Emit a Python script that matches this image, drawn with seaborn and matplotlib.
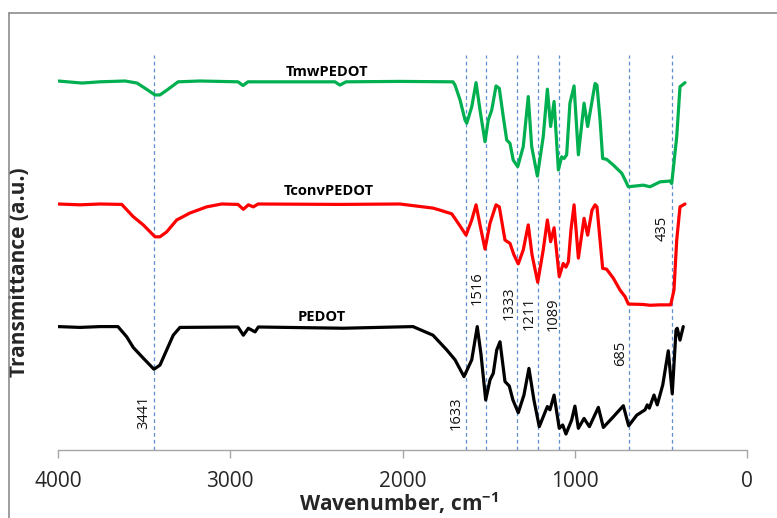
import matplotlib

matplotlib.use("Agg")
import matplotlib.pyplot as plt
import pandas as pd
import seaborn as sns
from matplotlib.lines import Line2D

sns.set_theme(style="white")
plt.rcParams["font.family"] = ["Open Sans", "DejaVu Sans"]

# FTIR spectra (transmittance in arbitrary, stacked units)
mw_wn = [4000, 3861, 3756, 3611, 3541, 3483, 3437, 3408, 3367, 3303, 3176, 2955, 2926, 2897,
         2392, 2363, 2328, 2015, 1707, 1695, 1666, 1637, 1627, 1598, 1573, 1550, 1521, 1502,
         1482, 1457, 1438, 1415, 1395, 1376, 1357, 1331, 1299, 1270, 1250, 1217, 1183, 1159,
         1140, 1120, 1095, 1076, 1062, 1047, 1028, 1004, 979, 946, 925, 882, 871, 853, 838,
         815, 776, 727, 708, 689, 602, 563, 505, 447, 437, 408, 389, 360]
mw_t = [90.0, 89.5, 89.8, 90.0, 89.5, 87.9, 86.6, 86.6, 87.8, 89.8, 90.0, 89.8, 88.9, 89.8,
        89.8, 89.0, 89.8, 89.9, 89.8, 89.0, 85.4, 80.5, 79.7, 83.7, 89.6, 82.9, 75.2, 80.5,
        82.9, 88.8, 88.2, 81.3, 75.6, 74.8, 70.7, 69.1, 74.0, 86.2, 74.0, 66.8, 76.4, 88.0,
        78.9, 85.0, 68.3, 71.5, 71.1, 72.0, 84.6, 88.8, 72.0, 84.6, 78.9, 89.4, 89.0, 80.5, 71.1,
        70.9, 69.5, 67.5, 65.9, 64.2, 64.6, 64.2, 65.4, 65.6, 65.0, 76.4, 88.6, 89.6]

conv_wn = [4000, 3872, 3756, 3630, 3563, 3505, 3437, 3408, 3369, 3311, 3234, 3137, 3050, 2955,
           2924, 2895, 2866, 2839, 2363, 2015, 1823, 1782, 1714, 1678, 1631, 1598, 1573, 1550,
           1521, 1492, 1457, 1438, 1405, 1376, 1353, 1328, 1299, 1270, 1248, 1215, 1183, 1159,
           1140, 1120, 1090, 1067, 1051, 1037, 1022, 1004, 979, 946, 925, 900, 882, 871, 838,
           815, 776, 737, 708, 689, 604, 563, 505, 443, 424, 408, 389, 360]
conv_t = [60.0, 59.8, 60.0, 59.9, 56.9, 54.9, 52.0, 52.0, 53.2, 56.1, 57.8, 59.3, 60.0, 59.9,
          58.7, 59.8, 59.3, 60.0, 59.9, 60.0, 59.0, 58.5, 57.6, 55.4, 52.4, 56.1, 59.8, 54.9,
          49.0, 55.3, 59.8, 59.3, 51.2, 50.4, 47.6, 45.4, 48.8, 54.9, 47.6, 40.9, 48.8, 56.1,
          50.8, 54.2, 42.3, 45.5, 44.6, 45.9, 53.7, 59.8, 46.8, 56.5, 52.4, 58.5, 59.8, 59.3, 44.3,
          44.1, 41.9, 39.0, 37.4, 35.6, 35.5, 35.3, 35.4, 35.4, 39.0, 51.2, 59.3, 60.0]

pedot_wn = [4000, 3872, 3756, 3652, 3601, 3563, 3505, 3443, 3408, 3369, 3331, 3292, 2955, 2924,
            2895, 2856, 2837, 2344, 1939, 1823, 1743, 1695, 1643, 1598, 1566, 1544, 1517, 1492,
            1473, 1453, 1434, 1405, 1380, 1359, 1328, 1295, 1266, 1237, 1206, 1159, 1144, 1120,
            1090, 1070, 1051, 1018, 999, 979, 946, 915, 863, 834, 776, 718, 687, 640, 592, 579,
            567, 540, 521, 489, 457, 434, 412, 405, 389, 370]
pedot_t = [30.1, 29.9, 30.1, 30.1, 27.6, 25.0, 22.4, 19.7, 20.7, 24.4, 28.0, 29.9, 30.0, 28.0,
           29.7, 28.8, 30.0, 29.7, 30.1, 28.0, 24.4, 22.0, 17.9, 22.0, 30.1, 23.2, 12.2, 17.1,
           18.7, 24.4, 26.4, 16.7, 15.6, 12.2, 9.1, 13.4, 19.9, 12.2, 5.7, 10.6, 9.8, 13.4,
           5.3, 6.1, 3.9, 7.3, 10.7, 5.3, 7.7, 5.7, 10.4, 5.5, 8.1, 10.8, 5.9, 8.5, 9.8, 11.0,
           10.2, 13.4, 11.0, 15.9, 24.2, 13.7, 29.3, 29.7, 26.8, 30.1]

sample_names = ["TmwPEDOT", "TconvPEDOT", "PEDOT"]
sample_colors = ["#00B050", "#FF0000", "#000000"]
label_pos = [(2438, 92.2), (2427, 63.2), (2467, 32.4)]

band_wn = [3441, 1633, 1516, 1333, 1211, 1089, 685, 435]
band_text_pos = [(3501, 9.3), (1689, 8.9), (1568, 39.5), (1382, 35.9),
                 (1266, 33.3), (1126, 33.0), (732, 23.5), (493, 54.1)]

df = pd.concat([
    pd.DataFrame({"wavenumber": mw_wn, "T": mw_t, "sample": sample_names[0]}),
    pd.DataFrame({"wavenumber": conv_wn, "T": conv_t, "sample": sample_names[1]}),
    pd.DataFrame({"wavenumber": pedot_wn, "T": pedot_t, "sample": sample_names[2]}),
])

fig = plt.figure(figsize=(7.77, 5.18), dpi=100)
ax = fig.add_axes([58 / 777, 1 - 450 / 518, 689 / 777, 410 / 518])

# band markers
ax.vlines(band_wn, 0, 96.3, colors="#5B8FD0", linestyles=(0, (3, 2.5)), linewidth=0.9, zorder=1)

sns.lineplot(data=df, x="wavenumber", y="T", hue="sample", palette=sample_colors,
             hue_order=sample_names, estimator=None, sort=False, linewidth=2.3,
             legend=False, ax=ax, zorder=3)
for line in ax.get_lines():
    line.set_solid_joinstyle("round")

for name, (x, y) in zip(sample_names, label_pos):
    ax.text(x, y, name, ha="center", va="center", fontsize=10.5, fontweight="bold", color="black")

for wn, (x, y) in zip(band_wn, band_text_pos):
    ax.text(x, y, str(wn), rotation=90, ha="center", va="center", fontsize=10.5, color="#111111")

ax.set_xlim(4000, 0)
ax.set_ylim(0, 100)
ax.set_xticks([4000, 3000, 2000, 1000, 0])
ax.set_yticks([])
ax.tick_params(axis="x", direction="out", length=6, width=1, color="#A6A6A6",
               labelsize=15, pad=9, bottom=True)
for side in ["top", "right", "left"]:
    ax.spines[side].set_visible(False)
ax.spines["bottom"].set_color("#A6A6A6")
ax.spines["bottom"].set_linewidth(1)

ax.set_xlabel("Wavenumber, cm$^{\\mathregular{-1}}$", fontsize=15, fontweight="bold")
ax.xaxis.set_label_coords(0.494, -0.098)
ax.set_ylabel("Transmittance (a.u.)", fontsize=15, fontweight="bold")
ax.yaxis.set_label_coords(-0.041, 0.434)

# chart frame (only top and left edges fall inside the picture)
fig.add_artist(Line2D([9 / 777, 1], [1 - 13 / 518] * 2, color="#8C8C8C", linewidth=1.2))
fig.add_artist(Line2D([9 / 777] * 2, [0, 1 - 13 / 518], color="#8C8C8C", linewidth=1.2))

fig.savefig("out.png", dpi=100)
plt.close(fig)
